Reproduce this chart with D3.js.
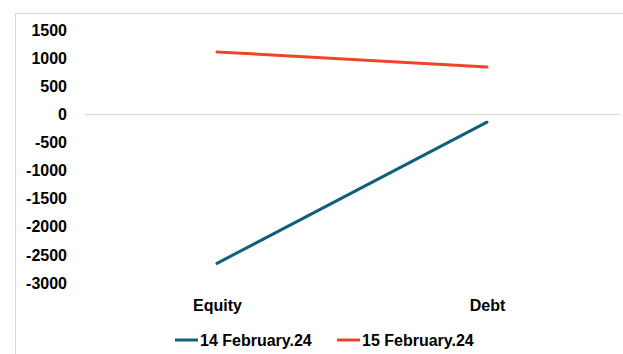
<!DOCTYPE html>
<html>
<head>
  <meta charset="utf-8">
  <script src="https://d3js.org/d3.v7.min.js"></script>
  <style>
    body { margin: 0; background: #fff; }
    text { font-family: "Liberation Sans", Arial, sans-serif; font-weight: bold; fill: #000; }
  </style>
</head>
<body>
  <script>
    // data
    var categories = ["Equity", "Debt"];
    var seriesNames = ["14 February.24", "15 February.24"];
    var feb14 = [-2650, -140];
    var feb15 = [1110, 840];
    var yTicks = [1500, 1000, 500, 0, -500, -1000, -1500, -2000, -2500, -3000];

    var colors = ["#0f5f7d", "#f0442a"];

    var W = 623, H = 354;
    var svg = d3.select("body").append("svg")
      .attr("width", W)
      .attr("height", H);

    // frame (top and left edges visible)
    svg.append("line").attr("x1", 15).attr("x2", W).attr("y1", 13.5).attr("y2", 13.5)
      .style("stroke", "#d9d9d9");
    svg.append("line").attr("x1", 15.5).attr("x2", 15.5).attr("y1", 13).attr("y2", H)
      .style("stroke", "#d9d9d9");

    var x = d3.scalePoint()
      .domain(categories)
      .range([217, 487])
      .padding(0);

    var y = d3.scaleLinear()
      .domain([-3000, 1500])
      .range([283, 30]);

    // y axis labels
    var yAxis = d3.axisLeft(y).tickValues(yTicks).tickSize(0).tickPadding(0)
      .tickFormat(function (d) { return String(d); });
    var gy = svg.append("g").attr("transform", "translate(67,0)").call(yAxis);
    gy.select(".domain").remove();
    gy.selectAll("text")
      .style("font-size", "16px")
      .style("font-family", "'Liberation Sans', Arial, sans-serif")
      .style("font-weight", "bold")
      .attr("fill", "#000");

    // zero line
    svg.append("line")
      .attr("x1", 85).attr("x2", 620)
      .attr("y1", Math.round(y(0)) + 0.5).attr("y2", Math.round(y(0)) + 0.5)
      .style("stroke", "#d9d9d9");

    // x axis labels
    var xAxis = d3.axisBottom(x).tickSize(0).tickPadding(0);
    var gx = svg.append("g").attr("transform", "translate(0,300)").call(xAxis);
    gx.select(".domain").remove();
    gx.selectAll("text")
      .style("font-size", "16px")
      .style("font-family", "'Liberation Sans', Arial, sans-serif")
      .style("font-weight", "bold")
      .attr("fill", "#000");

    var line = d3.line()
      .x(function (d, i) { return x(categories[i]); })
      .y(function (d) { return y(d); });

    [feb14, feb15].forEach(function (s, i) {
      svg.append("path")
        .datum(s)
        .attr("d", line)
        .style("fill", "none")
        .style("stroke", colors[i])
        .style("stroke-width", 3)
        .style("stroke-linecap", "round");
    });

    // legend
    var legendX = [175, 337];
    seriesNames.forEach(function (name, i) {
      var g = svg.append("g").attr("transform", "translate(" + legendX[i] + ",340)");
      g.append("line")
        .attr("x1", 0).attr("x2", 23)
        .attr("y1", 0).attr("y2", 0)
        .style("stroke", colors[i])
        .style("stroke-width", 3);
      g.append("text")
        .attr("x", 25)
        .attr("dy", "0.35em")
        .style("font-size", "16px")
        .text(name);
    });
  </script>
</body>
</html>
